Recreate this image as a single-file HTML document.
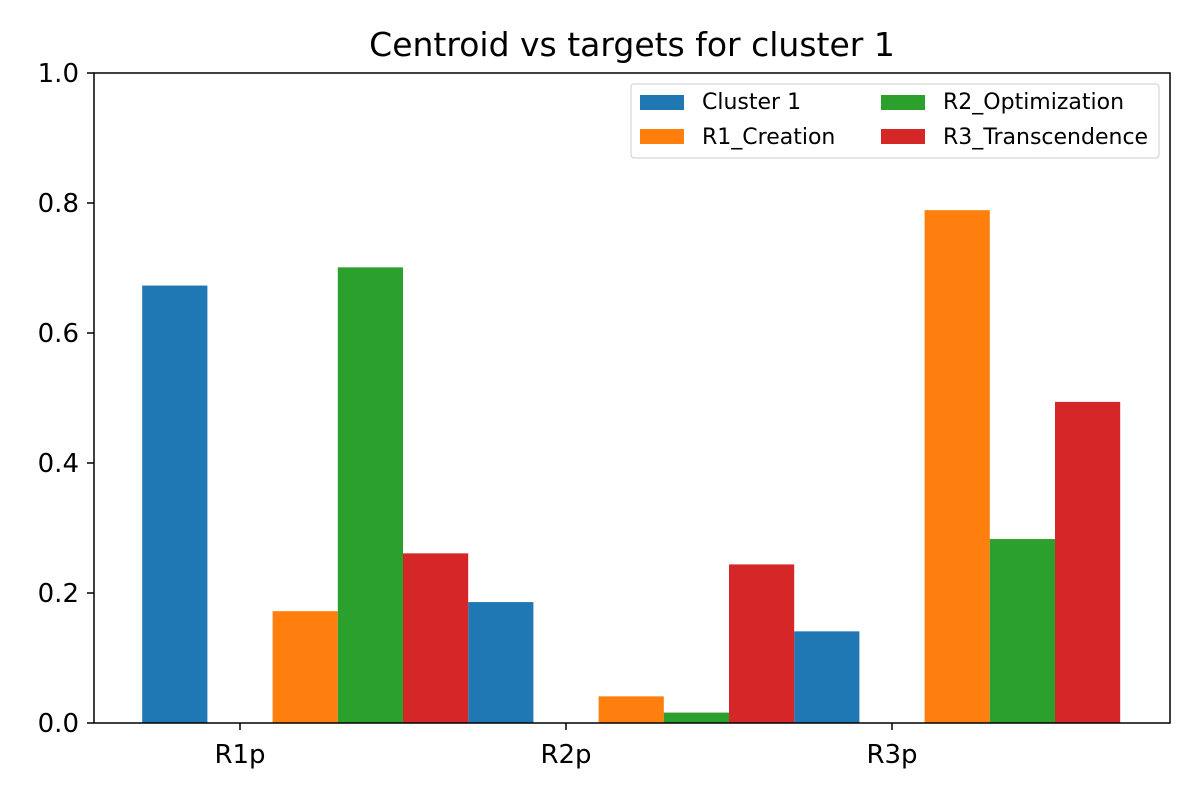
<!DOCTYPE html>
<html><head><meta charset="utf-8"><style>body{margin:0;background:#fff}svg{font-family:"DejaVu Sans","Liberation Sans",sans-serif}</style></head>
<body>
<svg id="chart" width="1200" height="800">
<rect width="1200" height="800" fill="#fff"/>
<text x="632" y="56" font-size="33" text-anchor="middle">Centroid vs targets for cluster 1</text>
<g id="bars"></g>
<rect x="94" y="73" width="1076" height="650" fill="none" stroke="#000" stroke-width="1.5"/>
<g id="axes"></g>
<g>
<rect x="631" y="84" width="528" height="74" fill="#fff" stroke="#ccc" rx="3"/>
<rect x="640" y="95" width="44" height="15" fill="#1f77b4"/><text x="702" y="109" font-size="22">Cluster 1</text>
<rect x="640" y="129" width="44" height="15" fill="#ff7f0e"/><text x="702" y="144" font-size="22">R1_Creation</text>
<rect x="881" y="95" width="44" height="15" fill="#2ca02c"/><text x="943" y="109" font-size="22">R2_Optimization</text>
<rect x="881" y="129" width="44" height="15" fill="#d62728"/><text x="943" y="144" font-size="22">R3_Transcendence</text>
</g>
</svg>
<script>
const categories = ["R1p","R2p","R3p"];
const cluster1 = [0.673, 0.186, 0.141];
const r1Creation = [0.172, 0.041, 0.789];
const r2Optimization = [0.701, 0.016, 0.283];
const r3Transcendence = [0.261, 0.244, 0.494];
const yTicks = [0, 0.2, 0.4, 0.6, 0.8, 1.0];
const yTickLabels = ["0.0","0.2","0.4","0.6","0.8","1.0"];
const NS="http://www.w3.org/2000/svg";
const xs = i => 240 + 326*i;
const ys = v => 723 - v*650;
const w = 65.2;
const series = [[cluster1,"#1f77b4",-1,"cluster-1"],[r1Creation,"#ff7f0e",1,"r1-creation"],[r2Optimization,"#2ca02c",2,"r2-optimization"],[r3Transcendence,"#d62728",3,"r3-transcendence"]];
const bars=document.getElementById("bars"), axes=document.getElementById("axes");
series.forEach(([vals,col,off,name])=>{
  vals.forEach((v,i)=>{
    const r=document.createElementNS(NS,"rect");
    const cx=xs(i)+off*w;
    r.setAttribute("x",cx-w/2);r.setAttribute("width",w);
    r.setAttribute("y",ys(v));r.setAttribute("height",ys(0)-ys(v));
    r.setAttribute("fill",col);
    
    
    bars.appendChild(r);
  });
});
yTicks.forEach((t,k)=>{
  const l=document.createElementNS(NS,"line");
  l.setAttribute("x1",87);l.setAttribute("x2",94);l.setAttribute("y1",ys(t));l.setAttribute("y2",ys(t));l.setAttribute("stroke","#000");l.setAttribute("stroke-width",1.5);
  
  
  axes.appendChild(l);
  const tx=document.createElementNS(NS,"text");
  tx.setAttribute("x",79);tx.setAttribute("y",ys(t)+9);tx.setAttribute("text-anchor","end");tx.setAttribute("font-size",26);
  tx.textContent=yTickLabels[k];
  
  
  axes.appendChild(tx);
});
categories.forEach((c,i)=>{
  const l=document.createElementNS(NS,"line");
  l.setAttribute("x1",xs(i));l.setAttribute("x2",xs(i));l.setAttribute("y1",723);l.setAttribute("y2",730);l.setAttribute("stroke","#000");l.setAttribute("stroke-width",1.5);
  
  
  axes.appendChild(l);
  const tx=document.createElementNS(NS,"text");
  tx.setAttribute("x",xs(i));tx.setAttribute("y",763);tx.setAttribute("text-anchor","middle");tx.setAttribute("font-size",26);
  tx.textContent=c;
  
  
  axes.appendChild(tx);
});
</script>
</body></html>
